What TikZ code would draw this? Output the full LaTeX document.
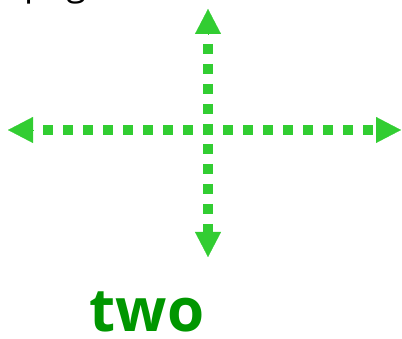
\documentclass[tikz,border=0pt]{standalone}
\usepackage{fontspec}
\setmainfont{Open Sans}
\usetikzlibrary{arrows.meta}
\definecolor{arrowgreen}{RGB}{50,205,50}
\definecolor{textgreen}{RGB}{0,150,0}
\tikzset{
  dotline/.style={draw=arrowgreen, line width=10pt, dash pattern=on 10pt off 10pt, dash phase=10pt, line cap=butt},
  tipline/.style={draw=arrowgreen, fill=arrowgreen, line width=0.2pt, -{Triangle[length=25pt,width=26pt]}},
}
\begin{document}
\begin{tikzpicture}[x=1pt,y=1pt]
\useasboundingbox (0,0) rectangle (402,339);
\clip (0,0) rectangle (402,339);
% coordinates
\coordinate (C) at (208,209);
\coordinate (L) at (8,209);
\coordinate (Lb) at (33,209);
\coordinate (R) at (401,209);
\coordinate (Rb) at (376,209);
\coordinate (T) at (208,330);
\coordinate (Tb) at (208,305);
\coordinate (B) at (208,82);
\coordinate (Bb) at (208,107);
% dotted lines
\draw[dotline] (Lb) -- (Rb);
\draw[dotline] (Tb) -- (Bb);
% arrow tips
\draw[tipline] (Lb) -- (L);
\draw[tipline] (Rb) -- (R);
\draw[tipline] (Tb) -- (T);
\draw[tipline] (Bb) -- (B);
% texts
\node[anchor=base west, inner sep=0pt, font=\fontsize{36}{40}\selectfont] (top) at (24,343) {pag};
\node[anchor=base, inner sep=0pt, text=textgreen, font=\bfseries\fontsize{60}{66}\selectfont] (two) at (147,7) {two};
\end{tikzpicture}
\end{document}
